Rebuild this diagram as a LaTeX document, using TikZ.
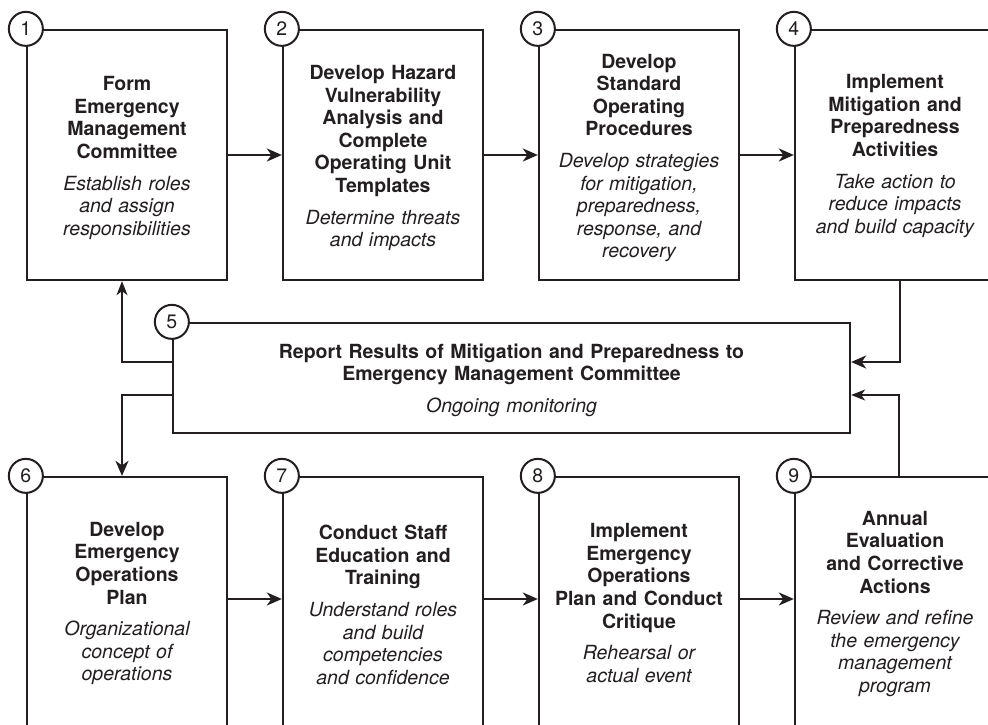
\documentclass[tikz,border=0pt]{standalone}
\usepackage{fontspec}
\setmainfont{TeX Gyre Heros}
\usetikzlibrary{arrows.meta,calc}
\definecolor{ink}{HTML}{231F20}
\begin{document}
\begin{tikzpicture}[x=1pt,y=-1pt,
  every node/.style={text=ink},
  stepbox/.style={draw=ink,line width=2.3pt,rectangle,minimum width=200pt,minimum height=250pt,inner sep=0pt},
  widebox/.style={draw=ink,line width=2.3pt,rectangle,minimum width=677pt,minimum height=110pt,inner sep=0pt},
  boxtext/.style={text width=196pt,align=center,inner sep=0pt,font=\fontsize{19.5}{22.6}\selectfont},
  widetext/.style={boxtext,text width=600pt},
  numcirc/.style={draw=ink,circle,fill=white,line width=2pt,minimum size=34pt,inner sep=0pt,
     font=\fontsize{19.5}{22}\selectfont},
  thickarrow/.style={draw=ink,line width=2.3pt,-{Stealth[length=15pt,width=13pt,inset=4.5pt]}},
  thinarrow/.style={draw=ink,line width=1.3pt,-{Stealth[length=14pt,width=11pt,inset=4pt]}}
]
\clip (0,0) rectangle (988,724);
\fill[white] (0,0) rectangle (988,724);
\newcommand\bxtext[2]{{\bfseries #1}\\[9pt]{\itshape #2}}

% top row boxes
\node[stepbox] (b1) at (127,155) {};
\node[stepbox] (b2) at (383,155) {};
\node[stepbox] (b3) at (639,155) {};
\node[stepbox] (b4) at (895,155) {};
% middle box
\node[widebox] (b5) at (511.5,378) {};
% bottom row boxes
\node[stepbox] (b6) at (127,602) {};
\node[stepbox] (b7) at (383,602) {};
\node[stepbox] (b8) at (639,602) {};
\node[stepbox] (b9) at (895,602) {};

% texts
\node[boxtext] (t1) at ([yshift=-3pt]b1.center) {\bxtext{Form\\Emergency\\Management\\Committee}{Establish roles\\and assign\\responsibilities}};
\node[boxtext] (t2) at ([yshift=-3pt]b2.center) {\bxtext{Develop Hazard\\Vulnerability\\Analysis and\\Complete\\Operating Unit\\Templates}{Determine threats\\and impacts}};
\node[boxtext] (t3) at ([yshift=-3pt]b3.center) {\bxtext{Develop\\Standard\\Operating\\Procedures}{Develop strategies\\for mitigation,\\preparedness,\\response, and\\recovery}};
\node[boxtext] (t4) at ([yshift=-1pt]b4.center) {\bxtext{Implement\\Mitigation and\\Preparedness\\Activities}{Take action to\\reduce impacts\\and build capacity}};
\node[widetext] (t5) at ([yshift=-2pt]b5.center) {\bxtext{Report Results of Mitigation and Preparedness to\\Emergency Management Committee}{Ongoing monitoring}};
\node[boxtext] (t6) at ([yshift=-1.5pt]b6.center) {\bxtext{Develop\\Emergency\\Operations\\Plan}{Organizational\\concept of\\operations}};
\node[boxtext] (t7) at ([yshift=-3pt]b7.center) {\bxtext{Conduct Staff\\Education and\\Training}{Understand roles\\and build\\competencies\\and confidence}};
\node[boxtext] (t8) at ([yshift=-1pt]b8.center) {\bxtext{Implement\\Emergency\\Operations\\Plan and Conduct\\Critique}{Rehearsal or\\actual event}};
\node[boxtext] (t9) at ([yshift=-2pt]b9.center) {\bxtext{Annual\\Evaluation\\and Corrective\\Actions}{Review and refine\\the emergency\\management\\program}};

% number circles
\node[numcirc] (n1) at (b1.north west) {1};
\node[numcirc] (n2) at (b2.north west) {2};
\node[numcirc] (n3) at (b3.north west) {3};
\node[numcirc] (n4) at (b4.north west) {4};
\node[numcirc] (n5) at (b5.north west) {5};
\node[numcirc] (n6) at (b6.north west) {6};
\node[numcirc] (n7) at (b7.north west) {7};
\node[numcirc] (n8) at (b8.north west) {8};
\node[numcirc] (n9) at (b9.north west) {9};

% horizontal flow arrows
\draw[thickarrow] (b1.east) -- (b2.west);
\draw[thickarrow] (b2.east) -- (b3.west);
\draw[thickarrow] (b3.east) -- (b4.west);
\draw[thickarrow] ([yshift=3pt]b6.east) -- ([yshift=3pt]b7.west);
\draw[thickarrow] ([yshift=3pt]b7.east) -- ([yshift=3pt]b8.west);
\draw[thickarrow] ([yshift=3pt]b8.east) -- ([yshift=3pt]b9.west);

% connectors around box 5
\coordinate (r1) at (900,362);
\coordinate (r2) at (899,395);
\coordinate (l1) at (122,362);
\coordinate (l2) at (122,395);
\draw[thickarrow] (b4.south -| r1) |- (b5.east |- r1);
\draw[thinarrow] (b9.north -| r2) |- (b5.east |- r2);
\draw[thinarrow] (b5.west |- l1) -| (b1.south -| l1);
\draw[thickarrow] (b5.west |- l2) -| (b6.north -| l2);
\end{tikzpicture}
\end{document}
